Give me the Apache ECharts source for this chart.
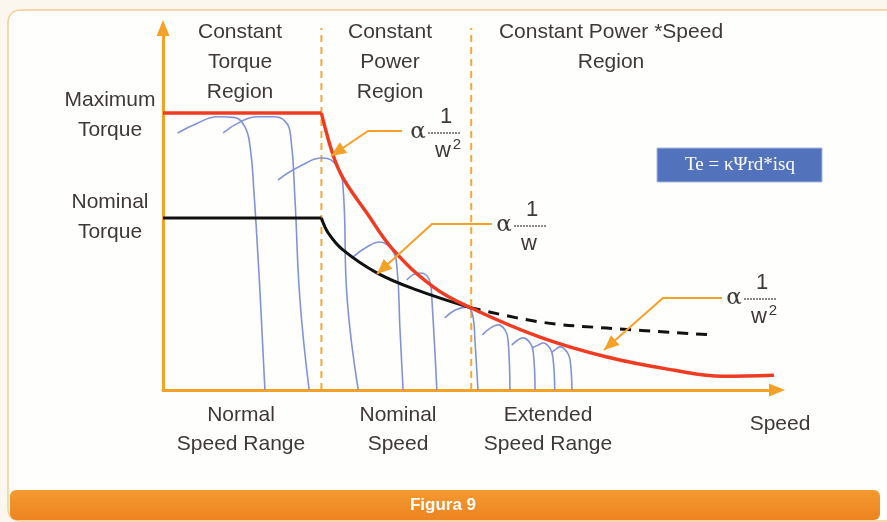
<!DOCTYPE html>
<html>
<head>
<meta charset="utf-8">
<style>
  html, body { margin: 0; padding: 0; background: #fbf7ee; }
  #chart { width: 887px; height: 522px; }
</style>
<script src="https://cdn.jsdelivr.net/npm/echarts@6/dist/echarts.min.js"></script>
</head>
<body>
<div id="chart"></div>
<script>
// speed (x) and torque (y) are both on a 0..100 scale
const baseSpeed = 25.8
const fieldWeakSpeed = 50.2

const maxTorqueFlat = [[0, 76.5], [25.8, 76.5]]
const maxTorqueCurve = [
  [25.8, 76.5], [27.7, 64.9], [29.3, 58.6], [33.2, 48.9], [37.5, 38.7], [44.0, 28.5],
  [50.0, 22.8], [61.4, 14.6], [72.3, 9.1], [83.1, 5.5], [91.2, 3.8], [99.5, 4.1],
]
const nominalTorqueFlat = [[0, 47.5], [25.8, 47.5]]
const nominalTorqueCurve = [
  [25.8, 47.5], [26.9, 43.4], [29.3, 38.7], [34.9, 32.3], [41.4, 27.6], [50.0, 22.8],
]
const nominalTorqueExtended = [[50.0, 22.8], [61.4, 18.8], [72.3, 17.1], [89.6, 15.2]]

// torque/speed characteristics at several supply frequencies
const curveF1 = [[2.4, 71], [5.5, 73.6], [8.8, 75.5], [11.5, 75.3], [13.3, 72.8], [14.2, 67], [14.8, 55], [15.7, 30], [16.6, 0]]
const curveF2 = [[9.8, 71], [12.5, 74], [15.5, 75.5], [17.8, 75.5], [19.9, 74.2], [20.8, 70], [21.5, 52.5], [22.3, 25], [23.8, 0]]
const curveF3 = [[18.7, 58], [22.3, 61.8], [26.1, 64.1], [28.3, 61.9], [29.3, 56.6], [30.0, 25], [31.8, 0]]
const curveF4 = [[30.9, 36.7], [33.2, 39.5], [35.3, 40.9], [37.3, 38.7], [38.1, 34.0], [38.6, 16.6], [39.1, 0]]
const curveF5 = [[39.7, 30.4], [40.7, 31.8], [41.9, 32.3], [43.5, 29.8], [43.8, 24.9], [44.6, 0]]
const curveF6 = [[45.9, 19.9], [47.6, 22.1], [49.5, 22.9], [50.5, 20.2], [50.8, 13.8], [51.3, 0]]
const curveF7 = [[52.0, 15.2], [53.3, 17.1], [54.6, 18.0], [55.7, 16.6], [56.2, 13.8], [56.5, 0]]
const curveF8 = [[56.8, 12.4], [57.8, 13.8], [58.6, 14.4], [59.8, 13.0], [60.3, 10.5], [60.6, 0]]
const curveF9 = [[60.1, 11.6], [61.1, 12.4], [61.9, 13.0], [63.0, 11.6], [63.5, 9.1], [63.8, 0]]
const curveF10 = [[63.4, 10.5], [64.0, 11.3], [64.7, 11.9], [65.8, 10.5], [66.3, 8.3], [66.6, 0]]
const freqCurves = [curveF1, curveF2, curveF3, curveF4, curveF5, curveF6, curveF7, curveF8, curveF9, curveF10]

const orange = '#f4a127'
const textColor = '#3f3838'
const labelFont = '21px "Liberation Sans", Arial, sans-serif'

function textLines(lines, x, y, lineGap) {
  return lines.map((t, i) => ({
    type: 'text',
    z: 50,
    style: {
      text: t, x: x, y: y + i * lineGap,
      font: labelFont, fill: textColor, align: 'center', verticalAlign: 'middle',
    },
  }))
}

function arrowHead(from, tip, len, half) {
  const dx = tip[0] - from[0]
  const dy = tip[1] - from[1]
  const d = Math.hypot(dx, dy)
  const ux = dx / d
  const uy = dy / d
  const bx = tip[0] - ux * len
  const by = tip[1] - uy * len
  return [tip, [bx - uy * half, by + ux * half], [bx + uy * half, by - ux * half]]
}

function leader(points) {
  const n = points.length
  return [
    {
      type: 'polyline', z: 40,
      shape: { points: points },
      style: { stroke: orange, lineWidth: 2, fill: null },
    },
    {
      type: 'polygon', z: 41,
      shape: { points: arrowHead(points[n - 2], points[n - 1], 15, 6.5) },
      style: { fill: orange },
    },
  ]
}

function fraction(x, y, squared) {
  const font = '22px "Liberation Sans", Arial, sans-serif'
  const items = [
    { type: 'text', z: 50, style: { text: 'α', x: x, y: y, font: '23px "DejaVu Serif", serif', fill: textColor, align: 'center', verticalAlign: 'middle' } },
    { type: 'text', z: 50, style: { text: '1', x: x + 28, y: y - 15, font: font, fill: textColor, align: 'center', verticalAlign: 'middle' } },
    { type: 'line', z: 50, shape: { x1: x + 10, y1: y + 1, x2: x + 43, y2: y + 1 }, style: { stroke: '#6a6262', lineWidth: 1.3, lineDash: [2, 1] } },
    { type: 'text', z: 50, style: { text: 'w', x: x + 25, y: y + 19, font: font, fill: textColor, align: 'center', verticalAlign: 'middle' } },
  ]
  if (squared) {
    items.push({ type: 'text', z: 50, style: { text: '2', x: x + 39, y: y + 13, font: '15px "Liberation Sans", Arial, sans-serif', fill: textColor, align: 'center', verticalAlign: 'middle' } })
  }
  return items
}

const chart = echarts.init(document.getElementById('chart'))

const blueSeries = freqCurves.map((c) => ({
  type: 'line',
  data: c,
  smooth: 0.45,
  symbol: 'none',
  z: 1,
  lineStyle: { color: '#8293d4', width: 1.6 },
}))

const dashedVertical = (x) => ({
  type: 'line',
  data: [[x, 0], [x, 100]],
  symbol: 'none',
  z: 1,
  lineStyle: { color: '#f2a93a', width: 2, type: [7, 5] },
})

chart.setOption({
  animation: false,
  backgroundColor: '#fbf7ee',
  grid: { left: 163, right: 110, top: 28, bottom: 132 },
  xAxis: {
    type: 'value', min: 0, max: 100,
    axisLine: { show: true, symbol: ['none', 'triangle'], symbolSize: [13, 16], lineStyle: { color: orange, width: 3 } },
    axisTick: { show: false }, axisLabel: { show: false }, splitLine: { show: false },
  },
  yAxis: {
    type: 'value', min: 0, max: 100,
    axisLine: { show: true, symbol: ['none', 'triangle'], symbolSize: [13, 16], lineStyle: { color: orange, width: 3 } },
    axisTick: { show: false }, axisLabel: { show: false }, splitLine: { show: false },
  },
  series: [
    dashedVertical(baseSpeed),
    dashedVertical(fieldWeakSpeed),
    ...blueSeries,
    { type: 'line', data: nominalTorqueFlat, symbol: 'none', z: 3, lineStyle: { color: '#111', width: 3 } },
    { type: 'line', data: nominalTorqueCurve, smooth: 0.4, symbol: 'none', z: 3, lineStyle: { color: '#111', width: 3 } },
    { type: 'line', data: nominalTorqueExtended, smooth: 0.4, symbol: 'none', z: 3, lineStyle: { color: '#111', width: 3, type: [11, 8] } },
    { type: 'line', data: maxTorqueFlat, symbol: 'none', z: 4, lineStyle: { color: '#ee3b22', width: 3.5 } },
    { type: 'line', data: maxTorqueCurve, smooth: 0.4, symbol: 'none', z: 4, lineStyle: { color: '#ee3b22', width: 3.5 } },
  ],
  graphic: [
    {
      type: 'rect', z: -10, silent: true,
      shape: { x: 8, y: 10, width: 900, height: 511, r: 12 },
      style: { fill: '#fefefd', stroke: '#f3cc96', lineWidth: 1.5 },
    },
    {
      type: 'rect', z: -9, silent: true,
      shape: { x: 10, y: 490, width: 870, height: 30, r: 6 },
      style: {
        fill: new echarts.graphic.LinearGradient(0, 0, 0, 1, [
          { offset: 0, color: '#f39a30' },
          { offset: 1, color: '#ee8420' },
        ]),
      },
    },
    {
      type: 'text', z: 50,
      style: { text: 'Figura 9', x: 443, y: 505, font: 'bold 17px "Liberation Sans", Arial, sans-serif', fill: '#ffffff', align: 'center', verticalAlign: 'middle' },
    },
    ...textLines(['Constant', 'Torque', 'Region'], 240, 32, 30),
    ...textLines(['Constant', 'Power', 'Region'], 390, 32, 30),
    ...textLines(['Constant Power *Speed', 'Region'], 611, 32, 30),
    ...textLines(['Maximum', 'Torque'], 110, 100, 30),
    ...textLines(['Nominal', 'Torque'], 110, 202, 30),
    ...textLines(['Normal', 'Speed Range'], 241, 415, 29),
    ...textLines(['Nominal', 'Speed'], 398, 415, 29),
    ...textLines(['Extended', 'Speed Range'], 548, 415, 29),
    ...textLines(['Speed'], 780, 424, 30),
    ...leader([[402, 131], [368, 131], [331, 156]]),
    ...leader([[492, 224], [432, 224], [377, 274]]),
    ...leader([[722, 298], [663, 298], [604, 350]]),
    ...fraction(418, 132, true),
    ...fraction(504, 225, false),
    ...fraction(734, 298, true),
    {
      type: 'rect', z: 45,
      shape: { x: 657, y: 148, width: 165, height: 34 },
      style: { fill: '#5272bb', stroke: '#a9b8e0', lineWidth: 1 },
    },
    {
      type: 'text', z: 50,
      style: { text: 'Te = κΨrd*isq', x: 740, y: 165, font: '19px "Liberation Serif", "DejaVu Serif", serif', fill: '#ffffff', align: 'center', verticalAlign: 'middle' },
    },
  ],
})
</script>
</body>
</html>
